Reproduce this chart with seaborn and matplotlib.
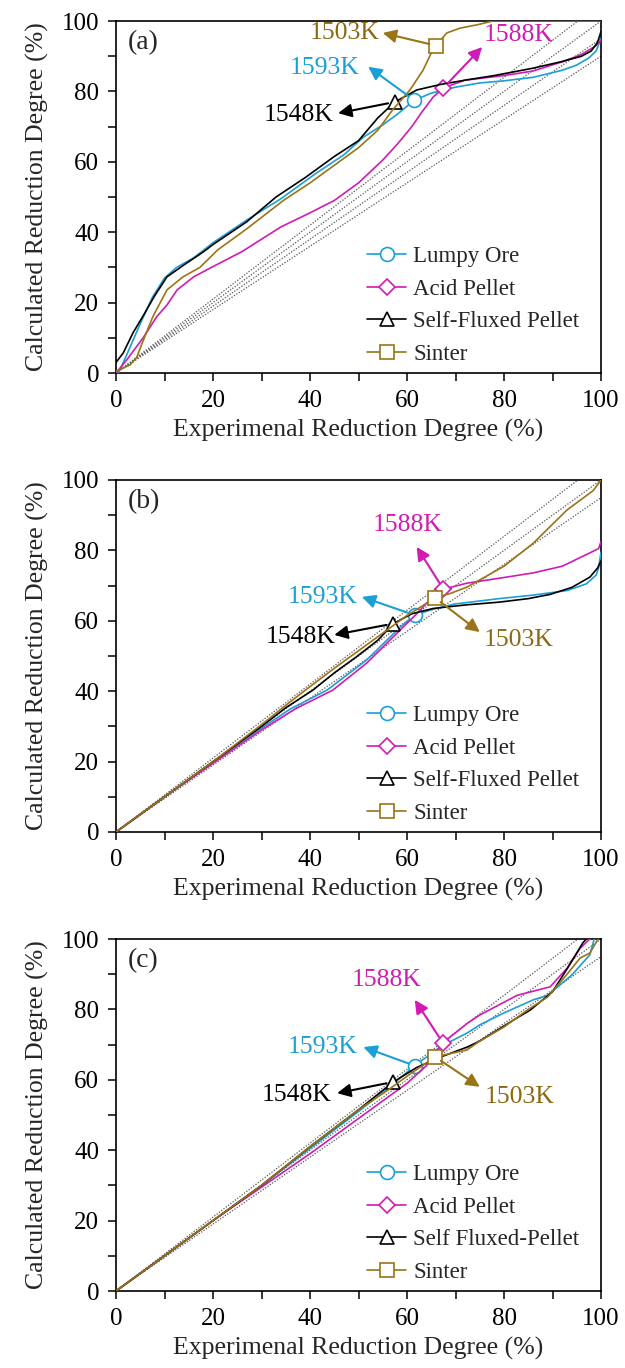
import numpy as np
import pandas as pd
import matplotlib
matplotlib.use("Agg")
import matplotlib.pyplot as plt
import seaborn as sns

# ---------------- data ----------------
series_names = ["Lumpy Ore", "Acid Pellet", "Self-Fluxed Pellet", "Sinter"]
series_names_c = ["Lumpy Ore", "Acid Pellet", "Self Fluxed-Pellet", "Sinter"]
temps = ["1593K", "1588K", "1548K", "1503K"]

# panel (a)
lumpy_a_x = [0, 0.5, 2, 5, 7.5, 10, 12.5, 16, 20, 27, 34, 41, 47, 51, 55, 58, 61.5, 65, 70, 75, 80, 86, 92, 95, 97.5, 99, 100]
lumpy_a_y = [0, 0, 4.5, 14, 21.5, 27, 30, 32.7, 37, 43.5, 49.5, 56.5, 62, 67, 70.5, 73.5, 77.5, 79.5, 81.2, 82.4, 83, 84, 86, 87.5, 89.5, 91.5, 95]
acid_a_x = [0, 2.2, 5.6, 8.4, 10.5, 12.6, 16, 19.4, 26, 34, 40, 45, 50, 55, 58, 61, 63, 65.4, 67.5, 72, 80, 86, 92, 96, 99, 100]
acid_a_y = [0, 3.7, 10, 16, 19.3, 23.6, 27.3, 29.8, 34.5, 41.5, 45.5, 49, 54, 60.5, 65, 70, 74, 78.4, 81, 83.2, 84.5, 85.8, 88.4, 90.5, 93, 94.5]
self_a_x = [0, 1.5, 3.5, 5.5, 8, 10.5, 14, 18, 20, 27, 33, 39, 45, 50, 54, 57.5, 62, 67, 72, 78, 86, 92, 96, 98, 99.3, 100]
self_a_y = [3, 5.7, 11.4, 16, 22, 27.3, 30.7, 34.4, 36.5, 43, 50, 55.5, 61.5, 66, 72.5, 77, 80.4, 82, 83.2, 84.5, 86.6, 88.5, 90, 91.5, 94, 97]
sinter_a_x = [0, 2.9, 4.3, 5.4, 7.6, 10.5, 13.8, 17.3, 21, 27, 34.5, 40, 45, 50, 54, 57, 60.6, 63.3, 65, 66, 68.2, 71, 74.4, 77.7, 85, 100]
sinter_a_y = [0.5, 2.3, 4.5, 8.5, 16, 23.6, 27.3, 30, 35, 41, 49, 54, 59, 64, 69, 74.7, 80.4, 86, 90.9, 93, 96.6, 98, 98.9, 100, 100, 100]

# panel (b)
lumpy_b_x = [0, 10, 20, 30, 36, 43.5, 51.7, 58.6, 61.6, 65.4, 70, 79, 86, 93, 97, 99, 99.5, 100]
lumpy_b_y = [0, 10, 20, 29.5, 35, 40.3, 48.9, 58.2, 61.6, 63.3, 64.8, 66.3, 67.3, 68.6, 70.5, 73, 75, 79.5]
acid_b_x = [0, 10, 20, 30, 37, 44.7, 51.7, 58.6, 62, 65.4, 67.5, 72.4, 80, 86, 92, 97.7, 99.5, 100]
acid_b_y = [0, 10, 19.5, 29, 35, 40.3, 48, 57.4, 62, 67, 69, 70.7, 72.3, 73.6, 75.5, 79.3, 80.5, 82.5]
self_b_x = [0, 10, 20, 30, 35, 40.6, 45, 49.7, 54, 57.2, 61, 65.4, 72, 79, 85, 89.5, 94, 97.7, 99.3, 100]
self_b_y = [0, 10, 20, 30, 35.3, 40.3, 45.2, 49.9, 54.5, 59.2, 62, 63.5, 64.5, 65.3, 66.3, 67.5, 69.5, 72.4, 75, 77]
sinter_b_x = [0, 10, 20, 30, 35, 40, 45, 50, 55, 60, 65.8, 69, 72.4, 80, 86, 93, 98.4, 100]
sinter_b_y = [0, 10, 20, 30.5, 36, 41.3, 46.5, 51.5, 56.5, 61.5, 66.5, 67.8, 69.6, 75.5, 82, 91.5, 97, 100]

# panel (c)
lumpy_c_x = [0, 10, 20, 30, 40, 50, 56, 61.6, 67, 72.4, 75, 80, 86, 89, 94, 97.7, 98.6]
lumpy_c_y = [0, 10, 20, 30, 40.5, 51, 57.5, 64, 69.5, 73.3, 75.6, 79, 82.7, 84, 89.8, 95.5, 100]
acid_c_x = [0, 10, 20, 30, 40, 50, 55, 60, 64, 67.4, 72.4, 75, 82.7, 89.5, 93, 95.7, 97.7]
acid_c_y = [0, 10, 20, 29.5, 39, 49, 54, 59, 64, 70.5, 76, 78.4, 84, 86.4, 91.7, 97.4, 100]
self_c_x = [0, 10, 20, 30, 40, 50, 57.2, 62, 67, 72.4, 75, 82.7, 85.4, 90, 93, 96.3, 97]
self_c_y = [0, 10, 20, 30, 41, 51.5, 59.4, 63.5, 66.5, 69.3, 71, 77.6, 79.8, 85, 91.5, 99, 100]
sinter_c_x = [0, 10, 20, 30, 40, 50, 56, 61, 65.8, 72.4, 75, 80, 85, 89, 93, 95.7, 97.7, 99.4]
sinter_c_y = [0, 10, 20, 30, 41, 51.5, 57, 62, 66.5, 68.5, 71, 75, 80, 83.5, 90, 94.6, 96, 100]

# marker positions (x of the marked point in each series)
marker_x_a = [61.5, 67.5, 57.5, 66]
marker_x_b = [61.6, 67.5, 57.2, 65.8]
marker_x_c = [61.6, 67.4, 57.2, 65.8]

# annotation text positions and arrow-head positions (data coords)
text_xy_a = [(43, 86.6), (83, 96), (37.6, 73.3), (47.2, 96.6)]
head_xy_a = [(52, 87), (75.5, 92.6), (45.8, 73.8), (55, 96.6)]
text_xy_b = [(42.5, 66.8), (60.2, 87.2), (38, 55.4), (83, 54.5)]
head_xy_b = [(50.7, 66.8), (62, 81), (45, 56), (75, 56.8)]
text_xy_c = [(42.7, 69.3), (55.8, 88.4), (37.3, 55.7), (83.3, 55)]
head_xy_c = [(51, 69.3), (61.6, 82.7), (45.6, 56.2), (75, 58)]

# reference (dotted) line slopes
ref_slopes_a = [1.05, 1.0, 0.95, 0.9]
ref_slopes_bc = [1.05, 1.0, 0.95]

colors = ["#1A9FD6", "#D01BB4", "#000000", "#9A7416"]
markers = ["o", "D", "^", "s"]
msizes = [10, 8, 10, 10]
panel_labels = ["(a)", "(b)", "(c)"]

# ---------------- style ----------------
sns.set_theme(style="ticks")
plt.rcParams["font.family"] = ["Liberation Serif", "DejaVu Serif"]
plt.rcParams["mathtext.fontset"] = "stix"

fig = plt.figure(figsize=(6.25, 13.68), dpi=100)
W, H = 625, 1368
axes_px = [(116, 21), (116, 480), (116, 939)]  # left, top
aw, ah = 485, 352

panels = [
    ([(lumpy_a_x, lumpy_a_y), (acid_a_x, acid_a_y), (self_a_x, self_a_y), (sinter_a_x, sinter_a_y)],
     marker_x_a, text_xy_a, head_xy_a, ref_slopes_a, series_names),
    ([(lumpy_b_x, lumpy_b_y), (acid_b_x, acid_b_y), (self_b_x, self_b_y), (sinter_b_x, sinter_b_y)],
     marker_x_b, text_xy_b, head_xy_b, ref_slopes_bc, series_names),
    ([(lumpy_c_x, lumpy_c_y), (acid_c_x, acid_c_y), (self_c_x, self_c_y), (sinter_c_x, sinter_c_y)],
     marker_x_c, text_xy_c, head_xy_c, ref_slopes_bc, series_names_c),
]

for p, (series, mx, txy, hxy, slopes, names) in enumerate(panels):
    l, t = axes_px[p]
    ax = fig.add_axes([l / W, 1 - (t + ah) / H, aw / W, ah / H])

    # dotted reference lines
    xr = np.array([0, 100.0])
    for k in slopes:
        ref = pd.DataFrame({"x": xr, "y": k * xr})
        sns.lineplot(data=ref, x="x", y="y", ax=ax, color="#555555", lw=0.9,
                     linestyle=(0, (1, 1.3)), legend=False, zorder=1)

    for i, (xs, ys) in enumerate(series):
        df = pd.DataFrame({"x": xs, "y": ys})
        idx = int(np.argmin(np.abs(np.array(xs) - mx[i])))
        sns.lineplot(data=df, x="x", y="y", ax=ax, color=colors[i], lw=1.2,
                     sort=False, estimator=None, marker=markers[i], markevery=[idx],
                     markersize=msizes[i], markerfacecolor="white",
                     markeredgecolor=colors[i], markeredgewidth=1.2,
                     label=names[i], zorder=3)
        # annotation
        ax.annotate("", xy=hxy[i], xytext=(xs[idx], ys[idx]),
                    arrowprops=dict(arrowstyle="-|>", color=colors[i], lw=1.5,
                                    mutation_scale=20, shrinkA=5, shrinkB=0),
                    zorder=4)
        ax.text(txy[i][0], txy[i][1], temps[i], color=colors[i] if i != 3 else "#8B6914",
                fontsize=18.5, ha="center", va="center")

    ax.set_xlim(0, 100)
    ax.set_ylim(0, 100)
    ax.set_xticks(np.arange(0, 101, 20))
    ax.set_yticks(np.arange(0, 101, 20))
    ax.set_xticks(np.arange(10, 100, 20), minor=True)
    ax.set_yticks(np.arange(10, 100, 20), minor=True)
    ax.tick_params(which="both", direction="out", length=6, width=1.1,
                   labelsize=18, top=False, right=False, colors="black", pad=6)
    for s in ax.spines.values():
        s.set_visible(True)
        s.set_linewidth(1.2)
        s.set_color("black")
    ax.set_xlabel("Experimenal Reduction Degree (%)", fontsize=18.5, labelpad=5)
    ax.set_ylabel("Calculated Reduction Degree (%)", fontsize=18.5, labelpad=9)
    ax.text(0.025, 0.975, panel_labels[p], transform=ax.transAxes, fontsize=20,
            ha="left", va="top")
    ax.legend(loc="lower left", bbox_to_anchor=(0.49, -0.015), frameon=False,
              fontsize=16.5, handlelength=1.7, handletextpad=0.3,
              labelspacing=0.5, borderaxespad=0.2)

fig.savefig("out.png", dpi=100)
